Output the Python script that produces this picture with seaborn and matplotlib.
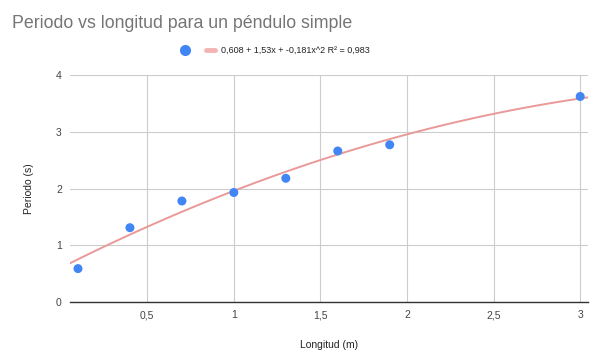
import numpy as np
import pandas as pd
import matplotlib
matplotlib.use('Agg')
import matplotlib.pyplot as plt
import seaborn as sns

# Datos
longitud = [0.1, 0.4, 0.7, 1.0, 1.3, 1.6, 1.9, 3.0]
periodo = [0.59, 1.31, 1.78, 1.93, 2.18, 2.66, 2.77, 3.62]
x_ticks = [0.5, 1, 1.5, 2, 2.5, 3]
x_labels = ['0,5', '1', '1,5', '2', '2,5', '3']
y_ticks = [0, 1, 2, 3, 4]
etiqueta_tendencia = '0,608 + 1,53x + -0,181x^2 R² = 0,983'

df = pd.DataFrame({'Longitud': longitud, 'Periodo': periodo})

sns.set_style('white')
plt.rcParams['font.family'] = ['Liberation Sans', 'DejaVu Sans']

fig = plt.figure(figsize=(6, 3.55), dpi=100)
ax = fig.add_axes([0.117, 0.149, 0.863, 0.64])

ax.set_xlim(0.055, 3.045)
ax.set_ylim(0, 4)

# Línea de tendencia polinómica (orden 2)
sns.regplot(data=df, x='Longitud', y='Periodo', order=2, ci=None,
            scatter=False, truncate=False, ax=ax,
            line_kws={'color': '#ea9999', 'linewidth': 1.4, 'zorder': 2})

sns.scatterplot(data=df, x='Longitud', y='Periodo', ax=ax, s=42,
                color='#4285f4', edgecolor='none', zorder=3, clip_on=False)

ax.set_xticks(x_ticks)
ax.set_xticklabels(x_labels)
ax.set_yticks(y_ticks)
ax.tick_params(axis='both', length=0, labelsize=7.5, colors='#444444', pad=6)

ax.grid(True, color='#cccccc', linewidth=0.8)
for lado in ['top', 'right', 'left']:
    ax.spines[lado].set_visible(False)
ax.spines['bottom'].set_color('#333333')
ax.spines['bottom'].set_linewidth(1)

ax.set_xlabel('Longitud (m)', fontsize=7.5, color='#222222', labelpad=14)
ax.set_ylabel('Periodo (s)', fontsize=7.5, color='#222222', labelpad=16)

fig.text(0.02, 0.935, 'Periodo vs longitud para un péndulo simple',
         fontsize=12.8, color='#757575', va='center')

handles = [
    plt.Line2D([], [], marker='o', linestyle='none', markersize=8,
               markerfacecolor='#4285f4', markeredgecolor='none'),
    plt.Line2D([], [], color='#f4b4b4', linewidth=3.5),
]
fig.legend(handles, ['', etiqueta_tendencia], loc='center',
           bbox_to_anchor=(0.458, 0.858), ncol=2, frameon=False,
           fontsize=6.5, handlelength=1.0, columnspacing=1.3,
           handletextpad=0.6, labelcolor='#222222')

fig.savefig('out.png', dpi=100)
